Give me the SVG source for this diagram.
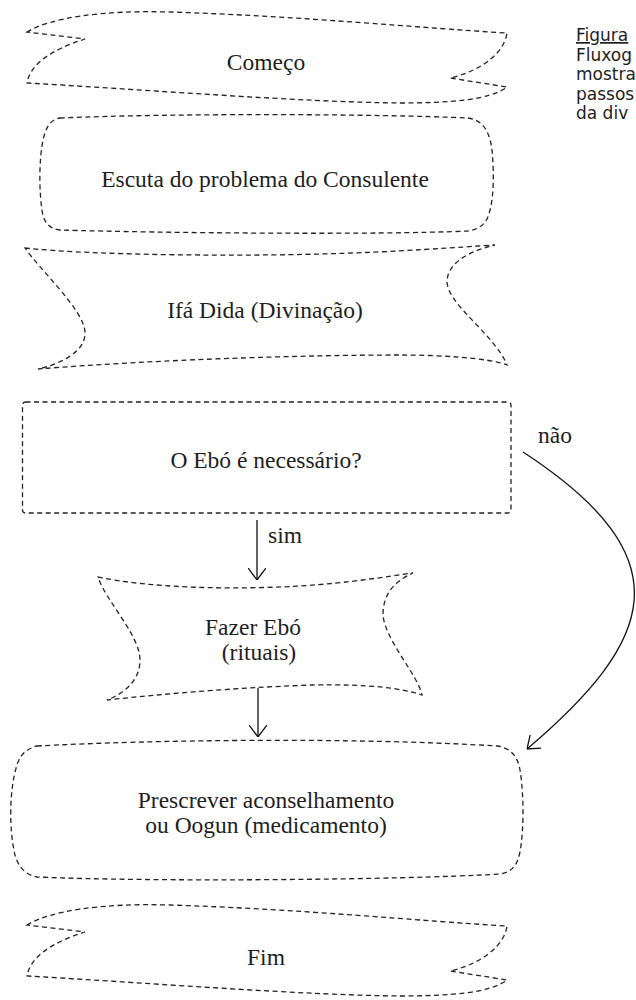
<svg xmlns="http://www.w3.org/2000/svg" width="636" height="1000" viewBox="0 0 636 1000">
<style>
.shape{fill:none;stroke:#222;stroke-width:1.3;stroke-dasharray:5 3.5}
.lbl{font-family:"Liberation Serif","Times New Roman","DejaVu Serif",serif;font-size:23.5px;fill:#1e1e1e;text-anchor:middle}
.edge{fill:none;stroke:#111;stroke-width:1.3}
.elbl{font-family:"Liberation Serif","Times New Roman","DejaVu Serif",serif;font-size:23.5px;fill:#1e1e1e}
.cap{font-family:"DejaVu Sans","Liberation Sans",sans-serif;font-size:17px;fill:#1e1e1e}
</style>
<defs>
<marker id="arr" viewBox="0 0 12 18" refX="12" refY="9" markerWidth="12" markerHeight="18" markerUnits="userSpaceOnUse" orient="auto">
<path d="M0,0 L12,9 L0,18" fill="none" stroke="#111" stroke-width="1.3"/>
</marker>
</defs>
<rect width="636" height="1000" fill="#fff"/>
<g id="caption">
<text class="cap" x="576" y="41" text-decoration="underline">Figura</text>
<text class="cap" x="576" y="60.5">Fluxog</text>
<text class="cap" x="576" y="80">mostra</text>
<text class="cap" x="576" y="99.5">passos</text>
<text class="cap" x="576" y="119">da div</text>
</g>
<g id="node-comeco">
<path class="shape" d="M27,32 C50,18 100,10 170,12 C300,16 420,28 507,33 C505,50 485,70 450,78 L507,87 C490,100 450,103 400,103 C300,102 150,90 27,83 C30,65 50,50 85,39 Z"/>
<text class="lbl" x="266" y="70">Começo</text>
</g>
<g id="node-escuta">
<path class="shape" d="M60,118 C180,113 380,114 468,118 C485,120 490,135 492,150 C494,170 494,195 490,210 C487,224 480,229 468,231 C380,235 160,233 60,230 C48,229 43,220 42,210 C39,190 39,160 43,140 C46,127 50,120 60,118 Z"/>
<text class="lbl" x="265" y="187">Escuta do problema do Consulente</text>
</g>
<g id="node-ifa">
<path class="shape" d="M25,248 C100,256 250,256 320,254 C400,252 460,247 495,245 C465,252 447,265 447,282 C448,305 495,335 507,365 C490,358 440,355 400,355 C300,355 150,360 38,369 C60,364 86,352 85,332 C84,310 40,270 25,248 Z"/>
<text class="lbl" x="265" y="318">Ifá Dida (Divinação)</text>
</g>
<g id="node-decisao">
<rect class="shape" x="22.5" y="402" width="488.5" height="111" rx="3"/>
<text class="lbl" x="266" y="468">O Ebó é necessário?</text>
</g>
<g id="node-ebo">
<path class="shape" d="M98,577 C150,588 230,590 300,586 C350,583 390,576 413,573 C393,582 383,595 383,615 C385,640 418,675 422,695 C400,688 370,684 313,685 C250,687 170,693 107,700 C125,693 140,680 140,660 C140,635 105,600 98,577 Z"/>
<text class="lbl" x="253" y="635">Fazer Ebó</text>
<text class="lbl" x="259" y="660">(rituais)</text>
</g>
<g id="node-prescrever">
<path class="shape" d="M37,746 C150,740 350,737 497,746 C512,748 518,758 520,770 C524,795 524,830 520,852 C517,866 512,872 500,874 C400,880 150,882 37,877 C25,875 18,866 15,855 C9,830 9,790 17,765 C20,755 26,749 37,746 Z"/>
<text class="lbl" x="266" y="808">Prescrever aconselhamento</text>
<text class="lbl" x="266" y="833">ou Oogun (medicamento)</text>
</g>
<g id="node-fim">
<path class="shape" transform="translate(0,893)" d="M27,32 C50,18 100,10 170,12 C300,16 420,28 507,33 C505,50 485,70 450,78 L507,87 C490,100 450,103 400,103 C300,102 150,90 27,83 C30,65 50,50 85,39 Z"/>
<text class="lbl" x="266" y="965">Fim</text>
</g>
<g id="connectors">
<path class="edge" d="M257,520 L257,580" marker-end="url(#arr)"/>
<text class="elbl" x="268" y="543">sim</text>
<path class="edge" d="M258,688 L258,737" marker-end="url(#arr)"/>
<path class="edge" d="M523,452 C687,559 654,641 527,749" marker-end="url(#arr)"/>
<text class="elbl" x="538" y="443">não</text>
</g>
</svg>
